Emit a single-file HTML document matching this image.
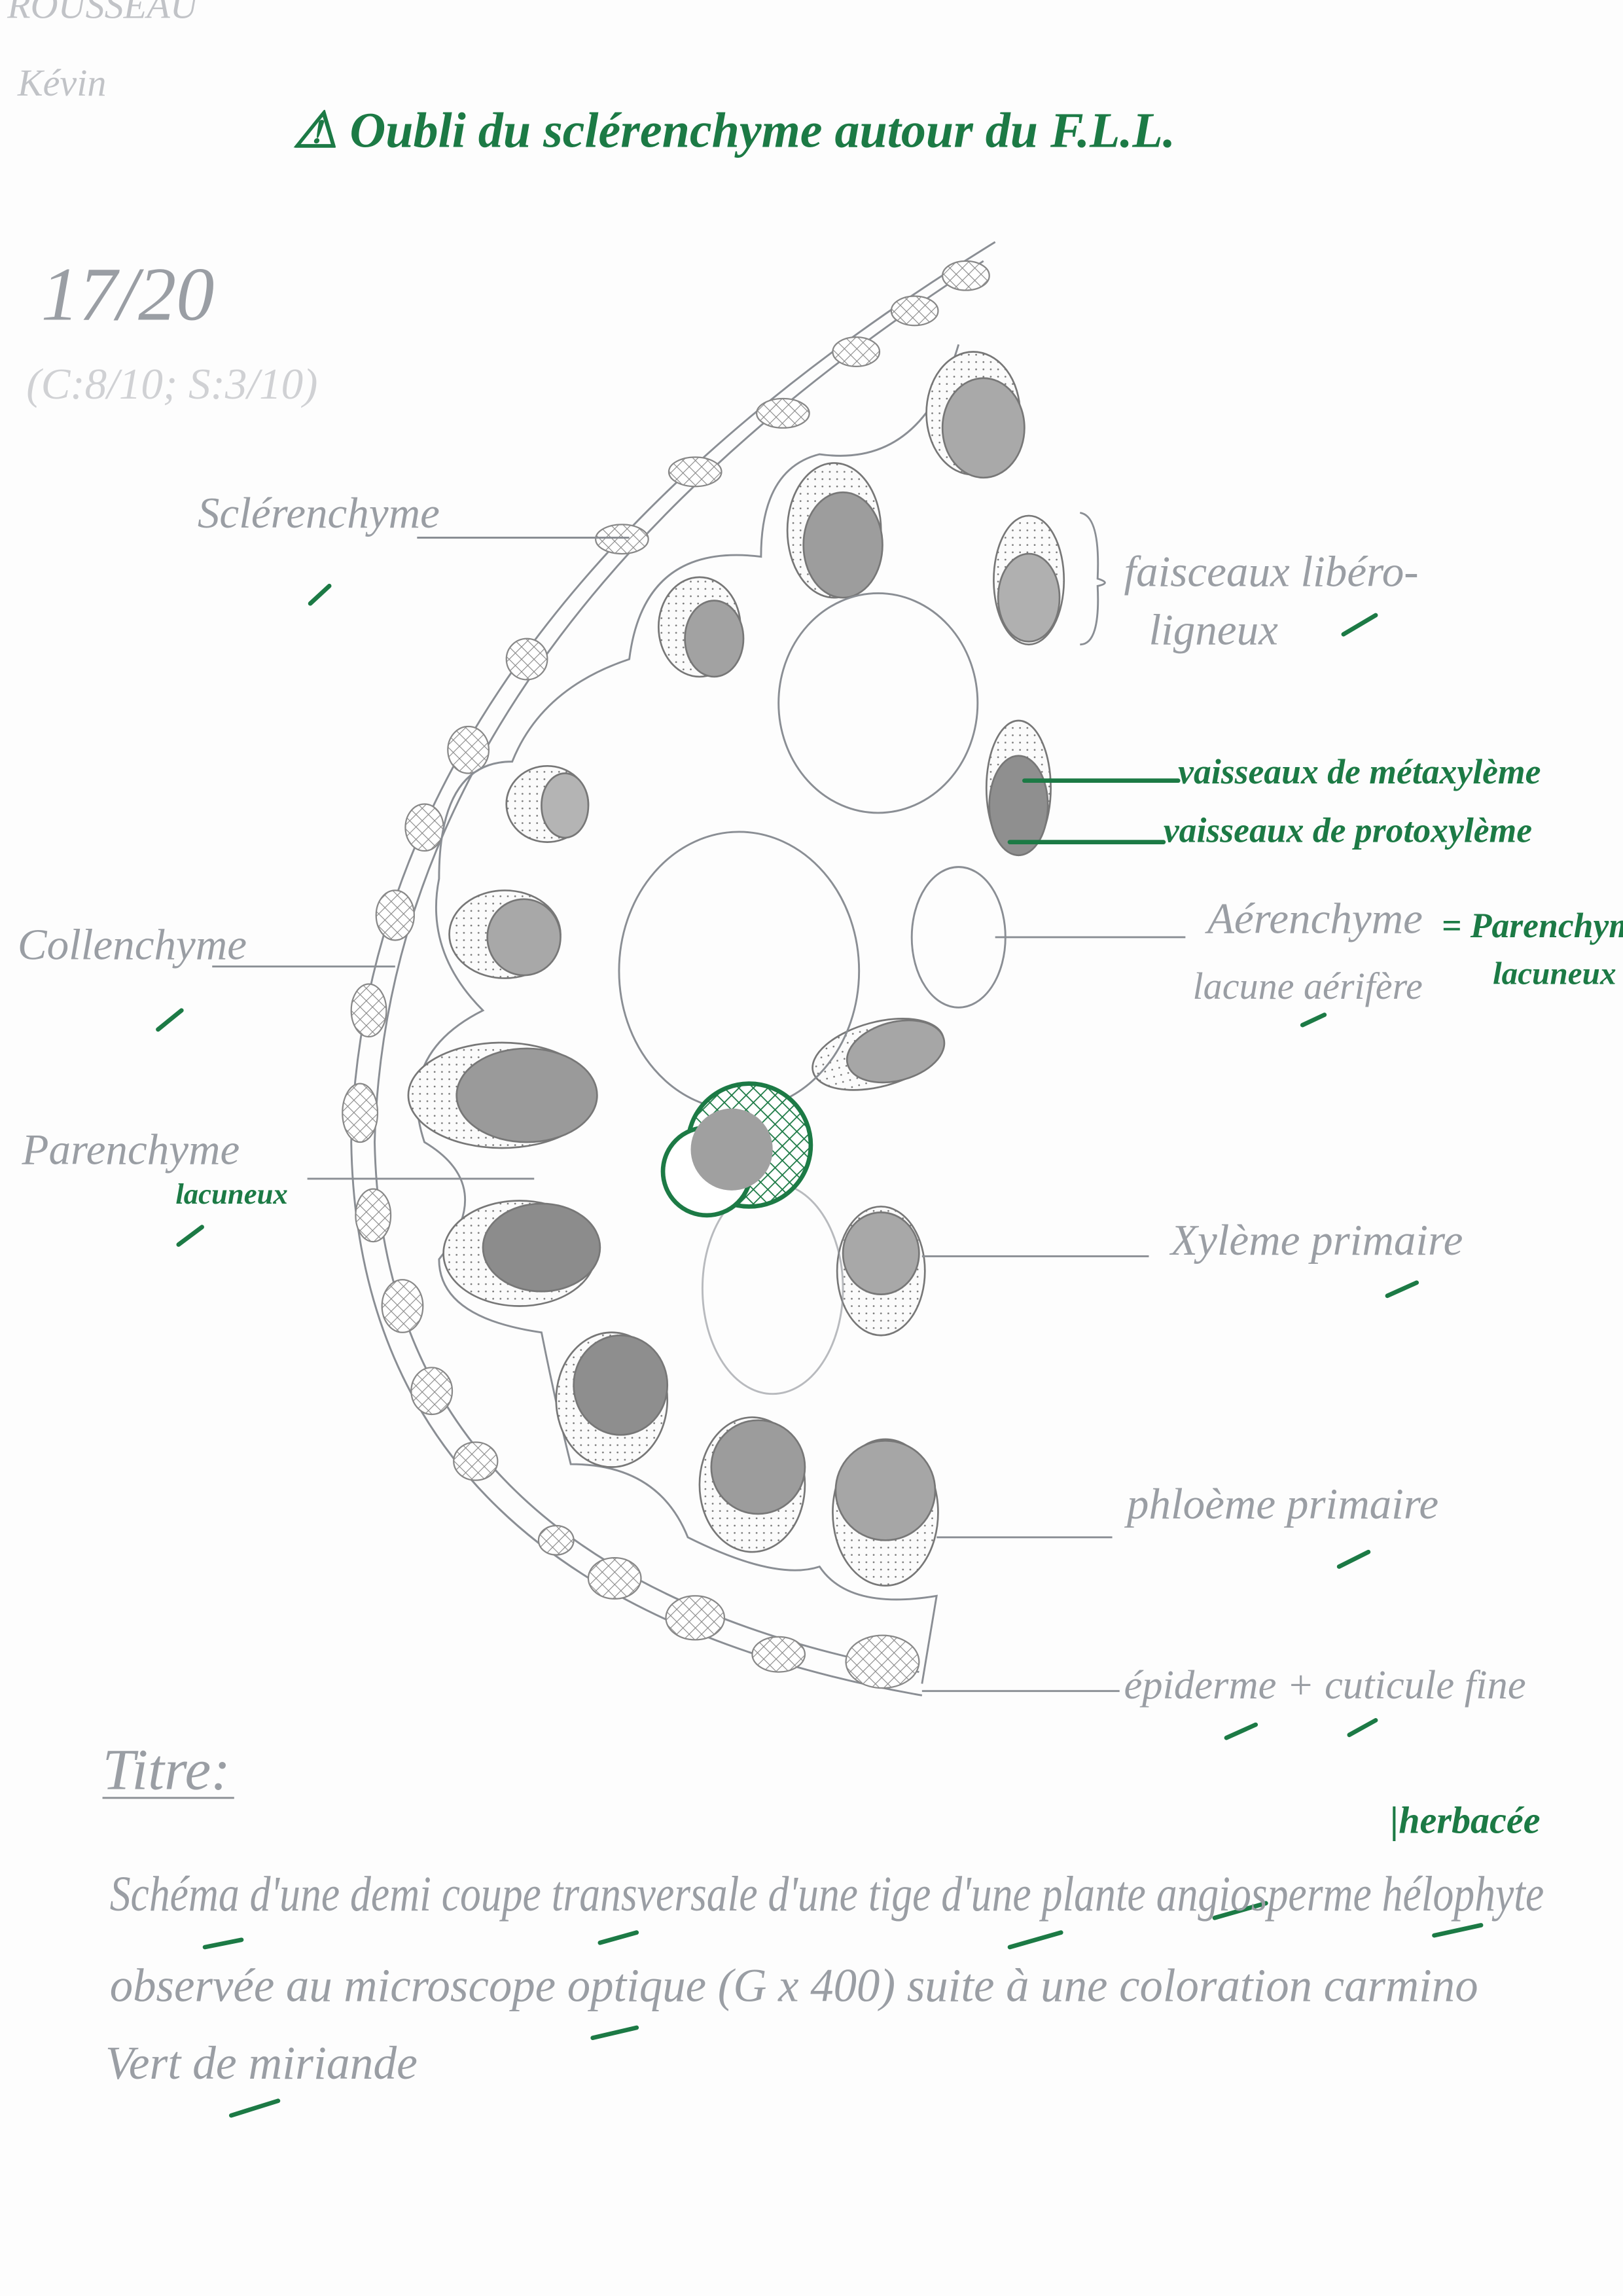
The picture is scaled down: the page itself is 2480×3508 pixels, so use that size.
<!DOCTYPE html>
<html><head><meta charset="utf-8"><style>
html,body{margin:0;padding:0;background:#fdfdfd;}
svg{display:block;}
.g{fill:#9a9ea4;font-family:"Liberation Serif",serif;font-style:italic;}
.gr{fill:#1c7a45;font-family:"Liberation Serif",serif;font-style:italic;font-weight:bold;}
.ln{stroke:#8a8e94;stroke-width:1.3;fill:none;}
.gl{stroke:#1c7a45;stroke-width:3;fill:none;stroke-linecap:round;}
</style></head><body>
<svg width="2480" height="3508" viewBox="0 0 1109 1568" xmlns="http://www.w3.org/2000/svg">
<defs>
<pattern id="hatch" width="6" height="6" patternUnits="userSpaceOnUse" patternTransform="rotate(45)"><rect width="6" height="6" fill="#fff"/><line x1="0" y1="0" x2="0" y2="6" stroke="#888" stroke-width="1"/><line x1="0" y1="0" x2="6" y2="0" stroke="#888" stroke-width="1"/></pattern>
<pattern id="ghatch" width="7" height="7" patternUnits="userSpaceOnUse" patternTransform="rotate(45)"><rect width="7" height="7" fill="#fff"/><line x1="0" y1="0" x2="0" y2="7" stroke="#1c7a45" stroke-width="1.6"/><line x1="0" y1="0" x2="7" y2="0" stroke="#1c7a45" stroke-width="1.6"/></pattern>
<pattern id="dots" width="5" height="5" patternUnits="userSpaceOnUse"><rect width="5" height="5" fill="#fbfbfb"/><circle cx="2" cy="2" r="0.6" fill="#777"/></pattern>
</defs>

<text class="g" x="5" y="12" font-size="26" opacity="0.6">ROUSSEAU</text>
<text class="g" x="12" y="65" font-size="26" opacity="0.6">Kévin</text>
<text class="gr" x="200" y="100" font-size="34">⚠ Oubli du sclérenchyme autour du F.L.L.</text>
<text class="g" x="28" y="218" font-size="52" fill="#777">17/20</text>
<text class="g" x="18" y="272" font-size="30" opacity="0.45">(C:8/10; S:3/10)</text>

<g>
<path class="ln" d="M680 165 Q250 430 240 780 Q245 1090 630 1158"/>
<path class="ln" d="M672 178 Q265 440 256 780 Q262 1075 628 1142"/>
</g>

<g stroke="#888" stroke-width="1">
<ellipse cx="660" cy="188" rx="16" ry="10" fill="url(#hatch)"/>
<ellipse cx="625" cy="212" rx="16" ry="10" fill="url(#hatch)"/>
<ellipse cx="585" cy="240" rx="16" ry="10" fill="url(#hatch)"/>
<ellipse cx="535" cy="282" rx="18" ry="10" fill="url(#hatch)"/>
<ellipse cx="475" cy="322" rx="18" ry="10" fill="url(#hatch)"/>
<ellipse cx="425" cy="368" rx="18" ry="10" fill="url(#hatch)"/>
<ellipse cx="360" cy="450" rx="14" ry="14" fill="url(#hatch)"/>
<ellipse cx="320" cy="512" rx="14" ry="16" fill="url(#hatch)"/>
<ellipse cx="290" cy="565" rx="13" ry="16" fill="url(#hatch)"/>
<ellipse cx="270" cy="625" rx="13" ry="17" fill="url(#hatch)"/>
<ellipse cx="252" cy="690" rx="12" ry="18" fill="url(#hatch)"/>
<ellipse cx="246" cy="760" rx="12" ry="20" fill="url(#hatch)"/>
<ellipse cx="255" cy="830" rx="12" ry="18" fill="url(#hatch)"/>
<ellipse cx="275" cy="892" rx="14" ry="18" fill="url(#hatch)"/>
<ellipse cx="295" cy="950" rx="14" ry="16" fill="url(#hatch)"/>
<ellipse cx="325" cy="998" rx="15" ry="13" fill="url(#hatch)"/>
<ellipse cx="380" cy="1052" rx="12" ry="10" fill="url(#hatch)"/>
<ellipse cx="420" cy="1078" rx="18" ry="14" fill="url(#hatch)"/>
<ellipse cx="475" cy="1105" rx="20" ry="15" fill="url(#hatch)"/>
<ellipse cx="532" cy="1130" rx="18" ry="12" fill="url(#hatch)"/>
<ellipse cx="603" cy="1135" rx="25" ry="18" fill="url(#hatch)"/>
</g>

<path class="ln" d="M655 235 Q630 320 560 310 Q520 320 520 380 Q440 370 430 450 Q370 470 350 520 Q300 520 300 600 Q290 650 330 690 Q270 720 290 780 Q340 810 300 860 Q300 900 370 910 Q380 960 390 1000 Q450 1000 470 1050 Q530 1080 560 1070 Q580 1100 640 1090 L630 1150"/>

<g stroke="#777" stroke-width="1.2">
<g><ellipse cx="665" cy="282" rx="32" ry="42" fill="url(#dots)"/><ellipse cx="672" cy="292" rx="28" ry="34" fill="#a9a9a9"/></g>
<g><ellipse cx="570" cy="362" rx="32" ry="46" fill="url(#dots)"/><ellipse cx="576" cy="372" rx="27" ry="36" fill="#9d9d9d"/></g>
<g><ellipse cx="478" cy="428" rx="28" ry="34" fill="url(#dots)"/><ellipse cx="488" cy="436" rx="20" ry="26" fill="#a2a2a2"/></g>
<g><ellipse cx="703" cy="396" rx="24" ry="44" fill="url(#dots)"/><ellipse cx="703" cy="408" rx="21" ry="30" fill="#b0b0b0"/></g>
<g><ellipse cx="374" cy="549" rx="28" ry="26" fill="url(#dots)"/><ellipse cx="386" cy="550" rx="16" ry="22" fill="#b4b4b4"/></g>
<g><ellipse cx="345" cy="638" rx="38" ry="30" fill="url(#dots)"/><ellipse cx="358" cy="640" rx="25" ry="26" fill="#a8a8a8"/></g>
<g><ellipse cx="343" cy="748" rx="64" ry="36" fill="url(#dots)"/><ellipse cx="360" cy="748" rx="48" ry="32" fill="#9a9a9a"/></g>
<g><ellipse cx="600" cy="720" rx="46" ry="22" transform="rotate(-15 600 720)" fill="url(#dots)"/><ellipse cx="612" cy="718" rx="34" ry="20" transform="rotate(-15 612 718)" fill="#a6a6a6"/></g>
<g><ellipse cx="696" cy="538" rx="22" ry="46" fill="url(#dots)"/><ellipse cx="696" cy="550" rx="20" ry="34" fill="#8f8f8f"/></g>
<g><ellipse cx="355" cy="856" rx="52" ry="36" fill="url(#dots)"/><ellipse cx="370" cy="852" rx="40" ry="30" fill="#8c8c8c"/></g>
<g><ellipse cx="602" cy="868" rx="30" ry="44" fill="url(#dots)"/><ellipse cx="602" cy="856" rx="26" ry="28" fill="#a8a8a8"/></g>
<g><ellipse cx="418" cy="956" rx="38" ry="46" fill="url(#dots)"/><ellipse cx="424" cy="946" rx="32" ry="34" fill="#8e8e8e"/></g>
<g><ellipse cx="514" cy="1014" rx="36" ry="46" fill="url(#dots)"/><ellipse cx="518" cy="1002" rx="32" ry="32" fill="#9c9c9c"/></g>
<g><ellipse cx="605" cy="1033" rx="36" ry="50" fill="url(#dots)"/><ellipse cx="605" cy="1018" rx="34" ry="34" fill="#a6a6a6"/></g>
</g>

<g>
<ellipse class="ln" cx="505" cy="663" rx="82" ry="95"/>
<ellipse class="ln" cx="600" cy="480" rx="68" ry="75"/>
<ellipse class="ln" cx="655" cy="640" rx="32" ry="48"/>
<ellipse class="ln" cx="528" cy="880" rx="48" ry="72" opacity="0.6"/>
</g>

<g stroke="#1c7a45" stroke-width="3">
<circle cx="512" cy="782" r="42" fill="url(#ghatch)"/>
<circle cx="483" cy="800" r="30" fill="#fff"/>
<ellipse cx="500" cy="785" rx="28" ry="28" fill="#a0a0a0" stroke="none"/>
</g>

<g>
<line class="ln" x1="285" y1="367" x2="430" y2="367"/>
<line class="ln" x1="145" y1="660" x2="270" y2="660"/>
<line class="ln" x1="210" y1="805" x2="365" y2="805"/>
<line class="ln" x1="680" y1="640" x2="810" y2="640"/>
<line class="ln" x1="630" y1="858" x2="785" y2="858"/>
<line class="ln" x1="640" y1="1050" x2="760" y2="1050"/>
<line class="ln" x1="630" y1="1155" x2="765" y2="1155"/>
<path class="ln" d="M738 350 Q752 352 750 395 Q760 398 750 400 Q752 440 738 440"/>
<line class="gl" x1="700" y1="533" x2="805" y2="533"/>
<line class="gl" x1="690" y1="575" x2="795" y2="575"/>
</g>

<text class="g" x="135" y="360" font-size="30">Sclérenchyme</text>
<text class="g" x="768" y="400" font-size="30">faisceaux libéro-</text>
<text class="g" x="785" y="440" font-size="30">ligneux</text>
<text class="g" x="12" y="655" font-size="30">Collenchyme</text>
<text class="g" x="825" y="637" font-size="30">Aérenchyme</text>
<text class="g" x="815" y="682" font-size="26">lacune aérifère</text>
<text class="g" x="15" y="795" font-size="30">Parenchyme</text>
<text class="g" x="800" y="857" font-size="30">Xylème primaire</text>
<text class="g" x="770" y="1037" font-size="30">phloème primaire</text>
<text class="g" x="768" y="1160" font-size="28">épiderme + cuticule fine</text>

<text class="gr" x="805" y="535" font-size="24">vaisseaux de métaxylème</text>
<text class="gr" x="795" y="575" font-size="24">vaisseaux de protoxylème</text>
<text class="gr" x="985" y="640" font-size="24">= Parenchyme</text>
<text class="gr" x="1020" y="672" font-size="22">lacuneux</text>
<text class="gr" x="120" y="822" font-size="20">lacuneux</text>

<g>
<line class="gl" x1="212" y1="412" x2="225" y2="400"/>
<line class="gl" x1="918" y1="433" x2="940" y2="420"/>
<line class="gl" x1="108" y1="703" x2="124" y2="690"/>
<line class="gl" x1="890" y1="700" x2="905" y2="693"/>
<line class="gl" x1="122" y1="850" x2="138" y2="838"/>
<line class="gl" x1="948" y1="885" x2="968" y2="876"/>
<line class="gl" x1="915" y1="1070" x2="935" y2="1060"/>
<line class="gl" x1="838" y1="1187" x2="858" y2="1178"/>
<line class="gl" x1="922" y1="1185" x2="940" y2="1175"/>
<line class="gl" x1="140" y1="1330" x2="165" y2="1325"/>
<line class="gl" x1="410" y1="1327" x2="435" y2="1320"/>
<line class="gl" x1="690" y1="1330" x2="725" y2="1320"/>
<line class="gl" x1="830" y1="1310" x2="865" y2="1300"/>
<line class="gl" x1="980" y1="1322" x2="1012" y2="1315"/>
<line class="gl" x1="405" y1="1392" x2="435" y2="1385"/>
<line class="gl" x1="158" y1="1445" x2="190" y2="1435"/>
</g>

<text class="g" x="70" y="1222" font-size="40">Titre:</text>
<line class="ln" x1="70" y1="1228" x2="160" y2="1228"/>
<text class="g" x="75" y="1305" font-size="34" textLength="980" lengthAdjust="spacingAndGlyphs">Schéma d'une demi coupe transversale d'une tige d'une plante angiosperme hélophyte</text>
<text class="gr" x="950" y="1252" font-size="26">|herbacée</text>
<text class="g" x="75" y="1367" font-size="32" textLength="935" lengthAdjust="spacingAndGlyphs">observée au microscope optique (G x 400) suite à une coloration carmino</text>
<text class="g" x="72" y="1420" font-size="32">Vert de miriande</text>
</svg>
</body></html>
